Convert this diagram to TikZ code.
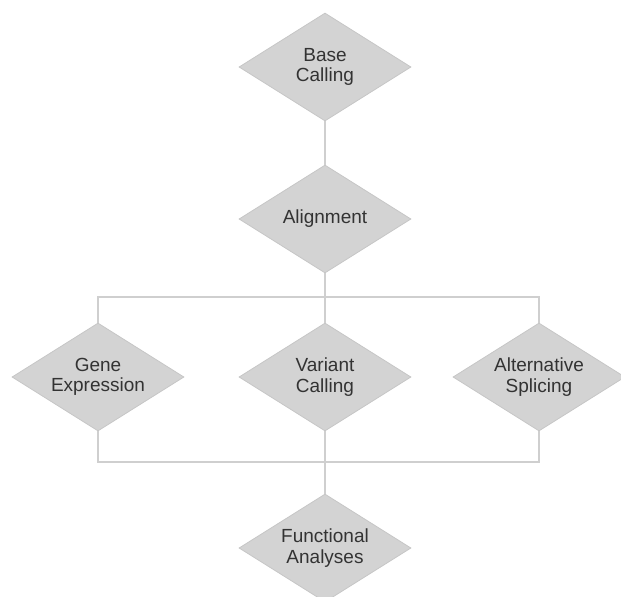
\documentclass[tikz,border=0pt]{standalone}
\usepackage{fontspec}
\setmainfont{Liberation Sans}
\usepackage{xcolor}
\usetikzlibrary{shapes.geometric,positioning}

\definecolor{boxfill}{HTML}{D3D3D3}
\definecolor{boxline}{HTML}{C6C6C6}
\definecolor{wire}{HTML}{CFCFCF}
\definecolor{ink}{HTML}{333333}

\begin{document}
\begin{tikzpicture}[x=0.5pt, y=-0.5pt,
        stage/.style={diamond, draw=boxline, fill=boxfill, line width=0.4pt,
            minimum width=\stagew, minimum height=\stageh, aspect=1.59, inner sep=0pt,
            align=center, text=ink, font=\fontsize{9.5}{10.2}\selectfont},
        link/.style={draw=wire, line width=0.8pt}]
        \def\stagew{86pt}
        \def\stageh{54pt}
        \useasboundingbox (0,0) rectangle (621,596);

        \node(base) [stage] at (325,67) {Base\\Calling};
        \node(align) [stage] at (325,219) {Alignment};

        \node(gene) [stage] at (98,377) {Gene\\Expression};
        \node(var) [stage] at (325,377) {Variant\\Calling};
        \node(alt) [stage] at (539,377) {Alternative\\Splicing};

        \node(func) [stage] at (325,548) {Functional\\Analyses};

        \coordinate(split) at (325,297);
        \coordinate(join) at (325,462);

        \draw[link] (base) -- (align);
        \draw[link] (align) -- (var);
        \draw[link] (gene) -- (gene |- split) -- (alt |- split) -- (alt);
        \draw[link] (gene) -- (gene |- join) -- (alt |- join) -- (alt);
        \draw[link] (var) -- (func);
    \end{tikzpicture}
\end{document}
